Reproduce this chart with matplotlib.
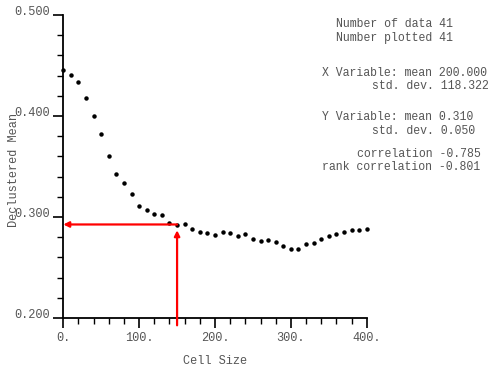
import matplotlib
matplotlib.use('Agg')
import matplotlib.pyplot as plt
from matplotlib.ticker import MultipleLocator, FormatStrFormatter

# cell size vs declustered mean
cell_size = list(range(0, 401, 10))
declus_mean = [0.446, 0.441, 0.434, 0.418, 0.400, 0.382, 0.360, 0.343, 0.334, 0.323,
               0.311, 0.307, 0.303, 0.302, 0.294, 0.292, 0.293, 0.288, 0.285, 0.284,
               0.282, 0.285, 0.284, 0.281, 0.283, 0.278, 0.276, 0.277, 0.275, 0.271,
               0.268, 0.268, 0.273, 0.274, 0.278, 0.281, 0.283, 0.285, 0.287, 0.287,
               0.288]

chosen_cell = 150
chosen_mean = 0.2926

stats_lines = [
    (336, 24, "Number of data 41"),
    (336, 38, "Number plotted 41"),
    (322, 73, "X Variable: mean 200.000"),
    (372, 86, "std. dev. 118.322"),
    (322, 117, "Y Variable: mean 0.310"),
    (372, 131, "std. dev. 0.050"),
    (357, 154, "correlation -0.785"),
    (322, 167, "rank correlation -0.801"),
]

mono = 'Liberation Mono'
txt_col = '#555555'

fig = plt.figure(figsize=(4.88, 3.70), dpi=100)
ax = fig.add_axes([63.3 / 488, 52 / 370, 303.4 / 488, 303 / 370])

ax.plot(cell_size, declus_mean, 'o', color='black', markersize=2.2, clip_on=False)

ax.set_xlim(0, 400)
ax.set_ylim(0.2, 0.5)
ax.spines['top'].set_visible(False)
ax.spines['right'].set_visible(False)
ax.spines['left'].set_linewidth(1.3)
ax.spines['bottom'].set_linewidth(1.3)

ax.xaxis.set_major_locator(MultipleLocator(100))
ax.xaxis.set_minor_locator(MultipleLocator(20))
ax.yaxis.set_major_locator(MultipleLocator(0.1))
ax.yaxis.set_minor_locator(MultipleLocator(0.02))
ax.xaxis.set_major_formatter(FormatStrFormatter('%d.'))
ax.yaxis.set_major_formatter(FormatStrFormatter('%.3f'))
ax.tick_params(which='major', length=7, width=1.2, pad=3, labelsize=8.6, labelcolor=txt_col)
ax.tick_params(which='minor', length=4, width=1.0)
for lab in ax.get_xticklabels() + ax.get_yticklabels():
    lab.set_fontfamily(mono)
for lab in ax.get_yticklabels():
    lab.set_va('baseline')

ax.set_xlabel('Cell Size', fontfamily=mono, fontsize=8.6, color=txt_col, labelpad=8)
ax.set_ylabel('Declustered Mean', fontfamily=mono, fontsize=8.6, color=txt_col)
ax.yaxis.set_label_coords(-43.5 / 303.4, 0.49)

# red arrows marking the chosen cell size
ax.annotate('', xy=(chosen_cell, chosen_mean - 0.003), xytext=(chosen_cell, 0.19),
            arrowprops=dict(arrowstyle='-|>', color='red', lw=1.6, mutation_scale=8),
            annotation_clip=False)
ax.annotate('', xy=(0, chosen_mean), xytext=(chosen_cell, chosen_mean),
            arrowprops=dict(arrowstyle='-|>', color='red', lw=1.6, mutation_scale=8,
                            shrinkA=0, shrinkB=0),
            annotation_clip=False)

for x, y, s in stats_lines:
    fig.text(x / 488, 1 - y / 370, s, fontfamily=mono, fontsize=8.3,
             color=txt_col, ha='left', va='center')

fig.savefig('out.png', dpi=100)
